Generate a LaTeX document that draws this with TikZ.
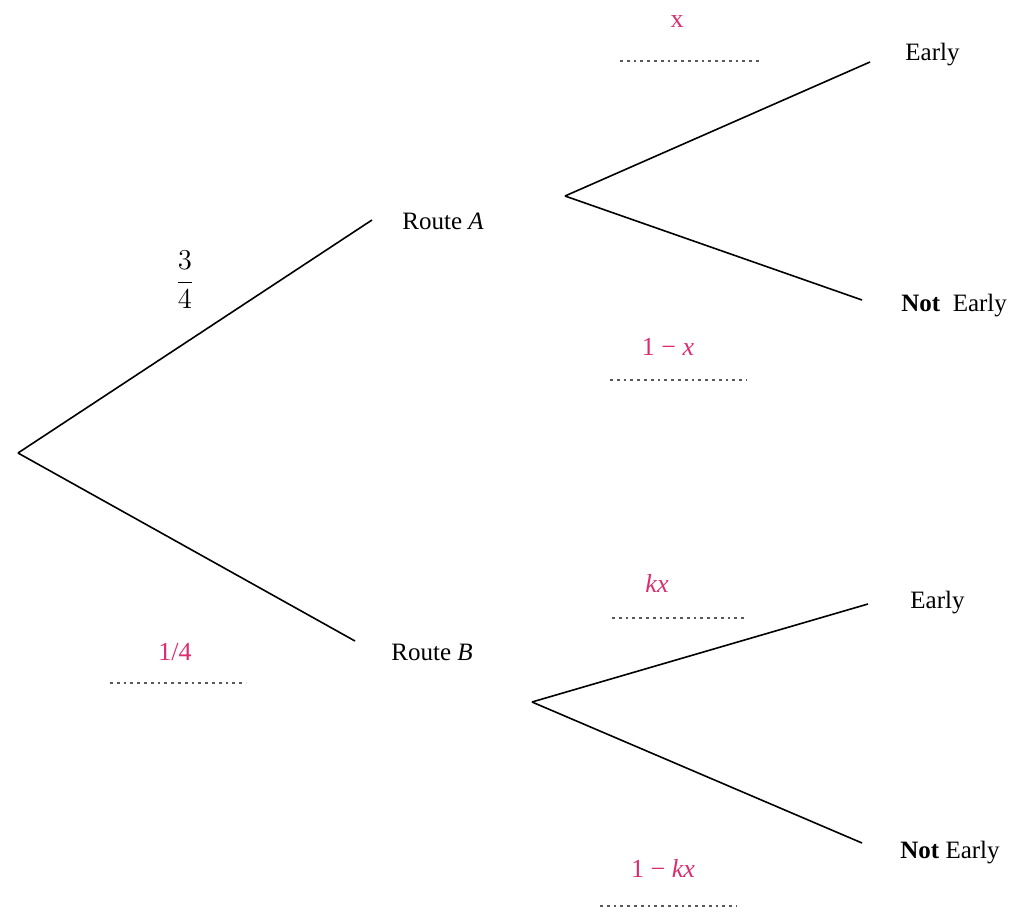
\documentclass[tikz,border=0pt]{standalone}
\usepackage{fontspec}
\setmainfont{Liberation Serif}
\usetikzlibrary{positioning}
\definecolor{probpink}{RGB}{218,45,110}

\begin{document}
\begin{tikzpicture}[
  x=0.5pt, y=-0.5pt,
  branch/.style={line width=0.8pt},
  outcome/.style={font=\fontsize{12.5}{15}\selectfont, inner sep=0pt, anchor=west},
  prob/.style={font=\fontsize{13}{15}\selectfont, text=probpink, inner sep=0pt},
  blank/.style={gray!70!black, line width=0.6pt, dash pattern=on 1.4pt off 2pt}
]
\useasboundingbox (0,0) rectangle (1025,922);
% branch points
\coordinate (root) at (18,453);
\coordinate (endA) at (372,220);
\coordinate (endB) at (355,641);
\coordinate (forkA) at (565,196);
\coordinate (forkB) at (532,702);
\coordinate (endAE) at (870,62);
\coordinate (endAN) at (862,300);
\coordinate (endBE) at (868,604);
\coordinate (endBN) at (862,843);
% outcomes
\node[outcome] (routeA) at (402,221) {Route \textit{A}};
\node[outcome] (routeB) at (391,652) {Route \textit{B}};
\node[outcome] (earlyA) at (905,55) {Early};
\node[outcome] (notA) at (901,306) {\textbf{Not}\ \ Early};
\node[outcome] (earlyB) at (910,603) {Early};
\node[outcome] (notB) at (900,853) {\textbf{Not} Early};
% branches
\draw[branch] (root) -- (endA);
\draw[branch] (root) -- (endB);
\draw[branch] (forkA) -- (endAE);
\draw[branch] (forkA) -- (endAN);
\draw[branch] (forkB) -- (endBE);
\draw[branch] (forkB) -- (endBN);
% probabilities
\node[font=\fontsize{15}{18}\selectfont] (pA) at (185,280) {$\displaystyle\frac{3}{4}$};
\node[prob] (pB) at (175,652) {1/4};
\node[prob] (pAE) at (677,22) {x};
\node[prob] (pAN) at (668,347) {1 − \textit{x}};
\node[prob] (pBE) at (657,583) {\textit{kx}};
\node[prob] (pBN) at (663,868) {1 − \textit{kx}};
% answer blanks
\draw[blank] (620,61) -- (760,61);
\draw[blank] (610,380) -- (747,380);
\draw[blank] (110,683) -- (246,683);
\draw[blank] (612,618) -- (747,618);
\draw[blank] (600,906) -- (737,906);
\end{tikzpicture}
\end{document}
